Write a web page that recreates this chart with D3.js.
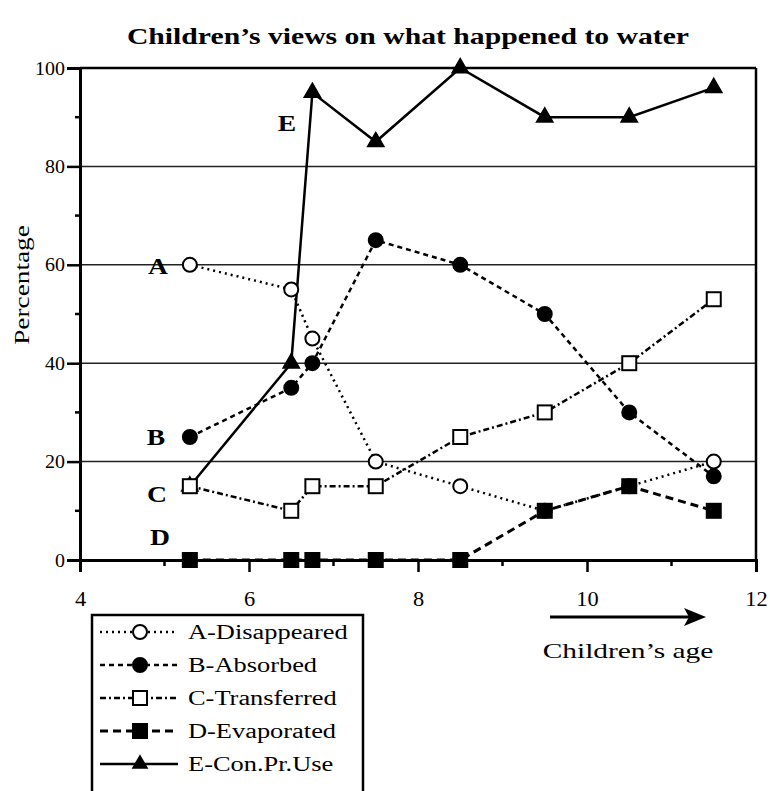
<!DOCTYPE html>
<head>
<meta charset='utf-8'>
<style>
  body { margin: 0; background: #fff; }
  svg text { font-family: 'Liberation Serif', 'Times New Roman', serif; fill: #000; }
  .grid line { stroke: #222; stroke-width: 1.5px; }
</style>
</head>
<body>
<div id='vis'></div>
<script src='https://d3js.org/d3.v7.min.js'></script>
<script>
  // ages where children were asked
  const ages = [5.3, 6.5, 6.75, 7.5, 8.5, 9.5, 10.5, 11.5]

  const disappeared = [60, 55, 45, 20, 15, 10, 15, 20]
  const absorbed    = [25, 35, 40, 65, 60, 50, 30, 17]
  const transferred = [15, 10, 15, 15, 25, 30, 40, 53]
  const evaporated  = [0, 0, 0, 0, 0, 10, 15, 10]
  const conPrUse    = [15, 40, 95, 85, 100, 90, 90, 96]

  const seriesNames = ['A-Disappeared', 'B-Absorbed', 'C-Transferred', 'D-Evaporated', 'E-Con.Pr.Use']
  const seriesLetters = ['A', 'B', 'C', 'D', 'E']
  const xTicks = [4, 6, 8, 10, 12]
  const yTicks = [0, 20, 40, 60, 80, 100]

  const W = 770, H = 791
  const margin = {top: 68, left: 80}
  const width = 676, height = 492

  const x = d3.scaleLinear().domain([4, 12]).range([margin.left, margin.left + width])
  const y = d3.scaleLinear().domain([0, 100]).range([margin.top + height, margin.top])

  const series = [
    {name: seriesNames[0], values: disappeared, marker: 'circle', fill: '#fff', dash: '2,4'},
    {name: seriesNames[1], values: absorbed, marker: 'circle', fill: '#000', dash: '5,4'},
    {name: seriesNames[2], values: transferred, marker: 'square', fill: '#fff', dash: '6,3,2,3'},
    {name: seriesNames[3], values: evaporated, marker: 'square', fill: '#000', dash: '8,5'},
    {name: seriesNames[4], values: conPrUse, marker: 'triangle', fill: '#000', dash: null}
  ]

  // the scanned original is wider than tall, so text gets stretched sideways
  function stretch(sel, k) {
    sel.each(function() {
      const w = this.getComputedTextLength()
      d3.select(this)
        .attr('textLength', w * k)
        .attr('lengthAdjust', 'spacingAndGlyphs')
    })
  }

  const svg = d3.select('#vis').append('svg')
    .attr('width', W)
    .attr('height', H)

  // title
  svg.append('text')
    .attr('x', 408)
    .attr('y', 44)
    .attr('text-anchor', 'middle')
    .attr('font-weight', 'bold')
    .attr('font-size', 23)
    .text('Children\u2019s views on what happened to water')
    .call(stretch, 1.29)

  // gridlines
  svg.append('g').attr('class', 'grid')
    .selectAll('line')
    .data([20, 40, 60, 80])
    .join('line')
    .attr('x1', x(4)).attr('x2', x(12))
    .attr('y1', d => y(d)).attr('y2', d => y(d))

  // frame: top and right
  svg.append('line')
    .attr('x1', x(4)).attr('x2', x(12))
    .attr('y1', y(100)).attr('y2', y(100))
    .attr('stroke', '#000').attr('stroke-width', 2.5)
  svg.append('line')
    .attr('x1', x(12)).attr('x2', x(12))
    .attr('y1', y(100)).attr('y2', y(0))
    .attr('stroke', '#000').attr('stroke-width', 2.5)

  // y axis
  const yAxis = svg.append('g')
    .attr('transform', `translate(${x(4)},0)`)
    .call(d3.axisLeft(y).tickValues(yTicks).tickSize(13).tickPadding(2).tickFormat(d3.format('d')))
  yAxis.attr('font-family', null).attr('font-size', 19)
  yAxis.select('.domain').attr('stroke-width', 3)
  yAxis.selectAll('.tick line').attr('stroke-width', 2.5)
  yAxis.selectAll('.tick text').call(stretch, 1.05)
  yAxis.selectAll('.minor')
    .data([10, 30, 50, 70, 90])
    .join('line')
    .attr('class', 'minor')
    .attr('x1', -5).attr('x2', 0)
    .attr('y1', d => y(d)).attr('y2', d => y(d))
    .attr('stroke', '#000').attr('stroke-width', 2.5)

  // x axis
  const xAxis = svg.append('g')
    .attr('transform', `translate(0,${y(0)})`)
    .call(d3.axisBottom(x).tickValues(xTicks).tickSize(12).tickPadding(20).tickFormat(d3.format('d')))
  xAxis.attr('font-family', null).attr('font-size', 20)
  xAxis.select('.domain').attr('stroke-width', 3)
  xAxis.selectAll('.tick line').attr('stroke-width', 2.5)
  xAxis.selectAll('.tick text').call(stretch, 1.12)
  xAxis.selectAll('.minor')
    .data([5, 7, 9, 11])
    .join('line')
    .attr('class', 'minor')
    .attr('x1', d => x(d)).attr('x2', d => x(d))
    .attr('y1', 0).attr('y2', 6)
    .attr('stroke', '#000').attr('stroke-width', 2.5)

  // y label
  svg.append('text')
    .attr('transform', 'translate(29,285) rotate(-90)')
    .attr('text-anchor', 'middle')
    .attr('font-size', 21)
    .text('Percentage')
    .call(stretch, 1.3)

  // arrow + x label
  svg.append('line')
    .attr('x1', 550).attr('x2', 690)
    .attr('y1', 617).attr('y2', 617)
    .attr('stroke', '#000').attr('stroke-width', 3)
  svg.append('path')
    .attr('d', 'M684,608 L706,617 L684,626 L689,617 Z')
    .attr('fill', '#000')
  svg.append('text')
    .attr('x', 628)
    .attr('y', 658)
    .attr('text-anchor', 'middle')
    .attr('font-size', 21)
    .text('Children\u2019s age')
    .call(stretch, 1.4)

  function drawMarker(g, type, fill, size) {
    if (type === 'circle') {
      g.append('circle').attr('r', size / 2)
        .attr('fill', fill).attr('stroke', '#000').attr('stroke-width', 2)
    } else if (type === 'square') {
      g.append('rect')
        .attr('x', -size / 2).attr('y', -size / 2)
        .attr('width', size).attr('height', size)
        .attr('fill', fill).attr('stroke', '#000').attr('stroke-width', 2)
    } else {
      g.append('path')
        .attr('d', d3.symbol(d3.symbolTriangle, size * size * 0.45)())
        .attr('fill', fill).attr('stroke', '#000').attr('stroke-width', 1.5)
    }
  }

  const line = d3.line()
    .x((d, i) => x(ages[i]))
    .y(d => y(d))

  // draw lines
  svg.append('g').selectAll('path')
    .data(series)
    .join('path')
    .attr('d', d => line(d.values))
    .attr('fill', 'none')
    .attr('stroke', '#000')
    .attr('stroke-width', (d, i) => i === 3 ? 3 : 2.5)
    .attr('stroke-dasharray', d => d.dash)

  // markers (E first so other markers sit on top)
  const order = [4, 0, 1, 2, 3]
  order.forEach(k => {
    const s = series[k]
    s.values.forEach((v, i) => {
      const g = svg.append('g')
        .attr('transform', `translate(${x(ages[i])},${y(v)})`)
      drawMarker(g, s.marker, s.fill, k === 4 ? 16 : 14)
    })
  })

  // letters next to curves
  const letterPos = [[158, 274], [156, 445], [157, 502], [160, 545], [287, 131]]
  svg.append('g').selectAll('text')
    .data(seriesLetters)
    .join('text')
    .attr('x', (d, i) => letterPos[i][0])
    .attr('y', (d, i) => letterPos[i][1])
    .attr('text-anchor', 'middle')
    .attr('font-weight', 'bold')
    .attr('font-size', 23)
    .text(d => d)
    .call(stretch, 1.2)

  // legend
  const legend = svg.append('g')
  legend.append('path')
    .attr('d', 'M92,800 L92,615 L363,615 L363,800')
    .attr('fill', 'none')
    .attr('stroke', '#000')
    .attr('stroke-width', 2.5)

  const rowY = d3.scalePoint().domain(seriesNames).range([632, 764])
  series.forEach((s, k) => {
    const yy = rowY(s.name)
    legend.append('line')
      .attr('x1', 100).attr('x2', 178)
      .attr('y1', yy).attr('y2', yy)
      .attr('stroke', '#000')
      .attr('stroke-width', k === 3 ? 3 : 2.5)
      .attr('stroke-dasharray', s.dash)
    const g = legend.append('g').attr('transform', `translate(140,${yy})`)
    drawMarker(g, s.marker, s.fill, 14)
    legend.append('text')
      .attr('x', 188)
      .attr('y', yy + 7)
      .attr('font-size', 20)
      .text(s.name)
      .call(stretch, 1.32)
  })
</script>
</body>
